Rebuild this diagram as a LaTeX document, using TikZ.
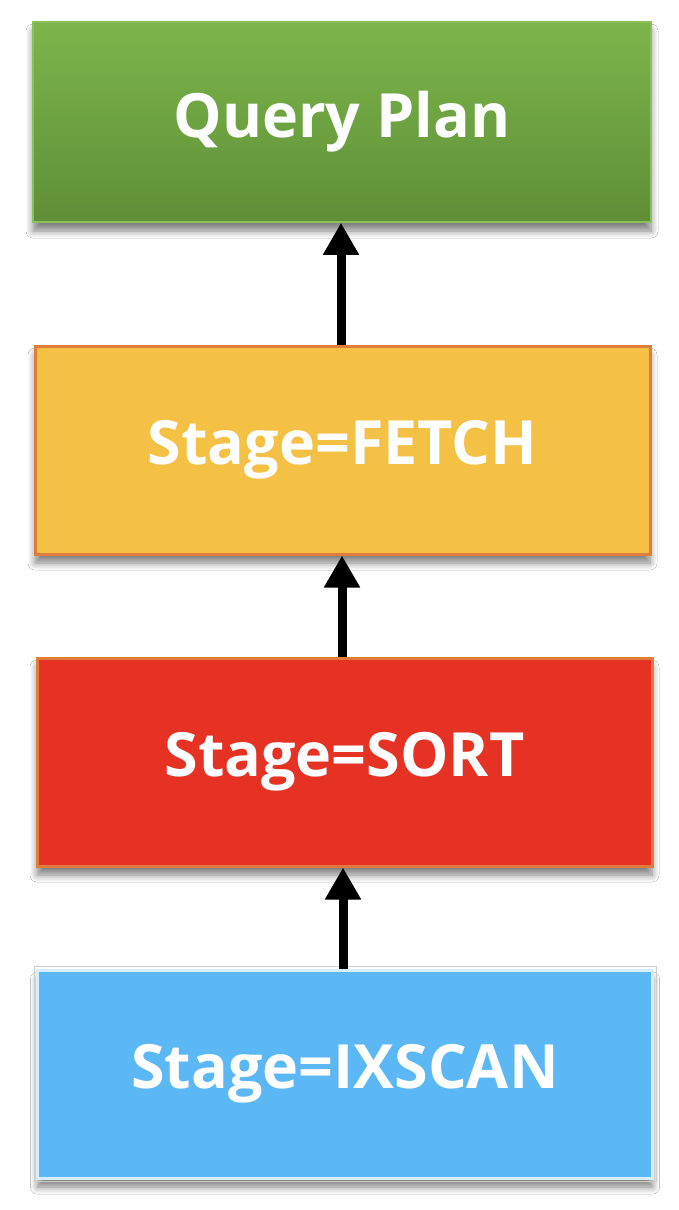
\documentclass[tikz,border=0pt]{standalone}
\usepackage{fontspec}
\setmainfont{Open Sans}
\usetikzlibrary{arrows.meta,shadows.blur}
\definecolor{gtop}{HTML}{7DB54B}
\definecolor{gbot}{HTML}{5E8F37}
\definecolor{gline}{HTML}{8CC05E}
\definecolor{yfill}{HTML}{F4C144}
\definecolor{oline}{HTML}{E07D3C}
\definecolor{rfill}{HTML}{E53222}
\definecolor{bfill}{HTML}{5CB8F5}
\definecolor{bline}{HTML}{D6EEFF}
\tikzset{
  stagebox/.style={rectangle, minimum width=615pt, minimum height=208pt, inner sep=0pt,
    text=white, font=\bfseries\fontsize{61}{66}\selectfont,
    blur shadow={shadow xshift=0pt, shadow yshift=-9pt, shadow blur steps=8, shadow opacity=50, shadow blur radius=7pt}},
  flow/.style={line width=9pt, -{Triangle[width=34pt,length=32pt]}, black}
}
\begin{document}
\begin{tikzpicture}[x=1pt,y=-1pt]
\useasboundingbox (0,0) rectangle (678,1210);
\fill[white] (0,0) rectangle (678,1210);
\node[stagebox, minimum width=618pt, minimum height=200pt, top color=gtop, bottom color=gbot, draw=gline, line width=1.5pt] (qp) at (342,122) {Query Plan};
\node[stagebox, fill=yfill, draw=oline, line width=3pt] (fetch) at (342.5,450) {Stage=FETCH};
\node[stagebox, fill=rfill, draw=oline, line width=3pt] (sort) at (344.5,762) {Stage=SORT};
\node[stagebox, fill=bfill, draw=bline, line width=3pt] (ix) at (345,1074) {Stage=IXSCAN};
\draw[gray!40, line width=0.8pt] (ix.north west) ++(-2,-2) rectangle ([shift={(2,2)}]ix.south east);
\draw[flow] (fetch.north -| 341,0) -- (qp.south -| 341,0);
\draw[flow] (sort.north -| 342,0) -- (fetch.south -| 342,0);
\draw[flow] (ix.north -| 343,0) -- (sort.south -| 343,0);
\end{tikzpicture}
\end{document}
